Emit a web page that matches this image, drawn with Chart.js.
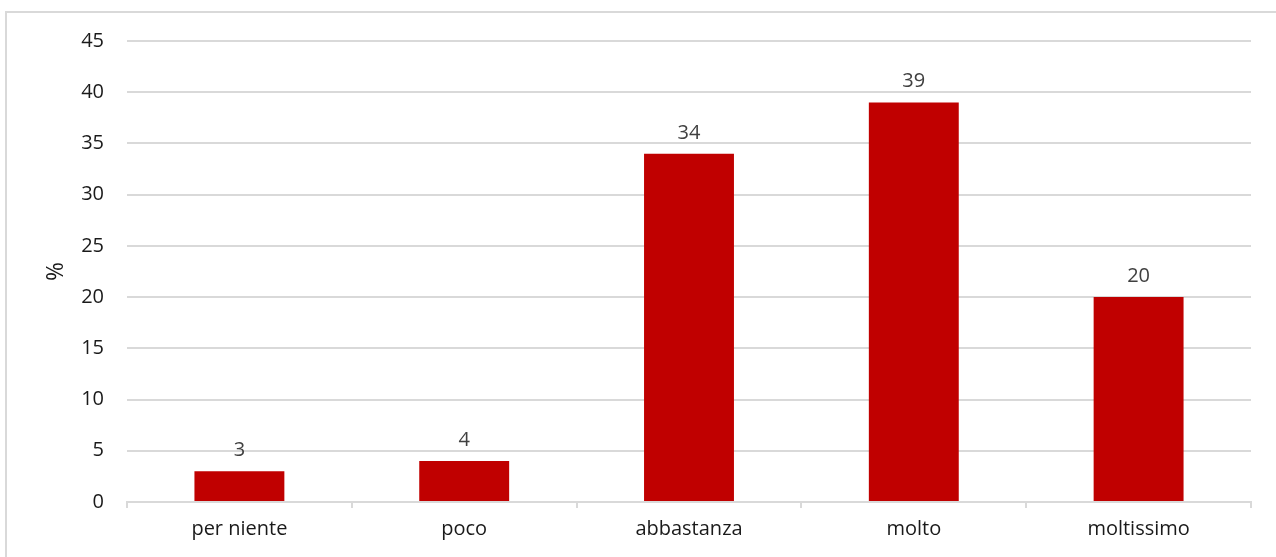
<!DOCTYPE html>
<html>
<head>
<meta charset="utf-8">
<script src="https://cdn.jsdelivr.net/npm/chart.js@4"></script>
<style>
  html, body { margin: 0; padding: 0; background: #fff; overflow: hidden; }
  #wrap { position: relative; width: 1276px; height: 557px; }
  #frame {
    position: absolute; left: 5px; top: 11px; width: 1300px; height: 600px;
    border: 2px solid #d9d9d9; box-sizing: border-box;
  }
  #chart { position: absolute; left: 0; top: 0; }
</style>
</head>
<body>
<div id="wrap">
  <div id="frame"></div>
  <canvas id="chart" width="1276" height="557"></canvas>
</div>
<script>
const categories = ['per niente', 'poco', 'abbastanza', 'molto', 'moltissimo']
const values = [3, 4, 34, 39, 20]
const yTicks = [0, 5, 10, 15, 20, 25, 30, 35, 40, 45]

const FONT = '"Open Sans", Lato, sans-serif'

// Draw value labels above each bar
const barLabels = {
  id: 'barLabels',
  afterDatasetsDraw(chart) {
    const ctx = chart.ctx
    const meta = chart.getDatasetMeta(0)
    ctx.save()
    ctx.font = '20px ' + FONT
    ctx.fillStyle = '#404040'
    ctx.textAlign = 'center'
    ctx.textBaseline = 'alphabetic'
    meta.data.forEach((bar, i) => {
      ctx.fillText(String(values[i]), bar.x, bar.y - 15)
    })
    ctx.restore()
  }
}

new Chart(document.getElementById('chart').getContext('2d'), {
  type: 'bar',
  data: {
    labels: categories,
    datasets: [{
      data: values,
      backgroundColor: '#c00000',
      borderWidth: 0,
      barPercentage: 0.4,
      categoryPercentage: 1
    }]
  },
  options: {
    responsive: false,
    animation: false,
    layout: { padding: { top: 41, right: 25, bottom: 0, left: 0 } },
    plugins: {
      legend: { display: false },
      tooltip: { enabled: false }
    },
    scales: {
      x: {
        offset: true,
        grid: {
          offset: true,
          drawOnChartArea: false,
          color: '#d9d9d9',
          lineWidth: 2,
          tickLength: 6
        },
        border: { color: '#d9d9d9', width: 2 },
        ticks: {
          color: '#1a1a1a',
          font: { family: FONT, size: 20 },
          padding: 9,
          maxRotation: 0
        },
        afterFit(scale) { scale.height = 55 }
      },
      y: {
        min: 0,
        max: 45,
        afterBuildTicks(scale) { scale.ticks = yTicks.map(v => ({ value: v })) },
        grid: { color: '#d9d9d9', lineWidth: 2, drawTicks: false },
        border: { display: false },
        ticks: {
          color: '#1a1a1a',
          font: { family: FONT, size: 20 },
          padding: 23
        },
        title: {
          display: true,
          text: '%',
          color: '#1a1a1a',
          font: { family: FONT, size: 23 },
          padding: { top: 43, bottom: 0 }
        },
        afterFit(scale) { scale.width = 127 }
      }
    }
  },
  plugins: [barLabels]
})
</script>
</body>
</html>
